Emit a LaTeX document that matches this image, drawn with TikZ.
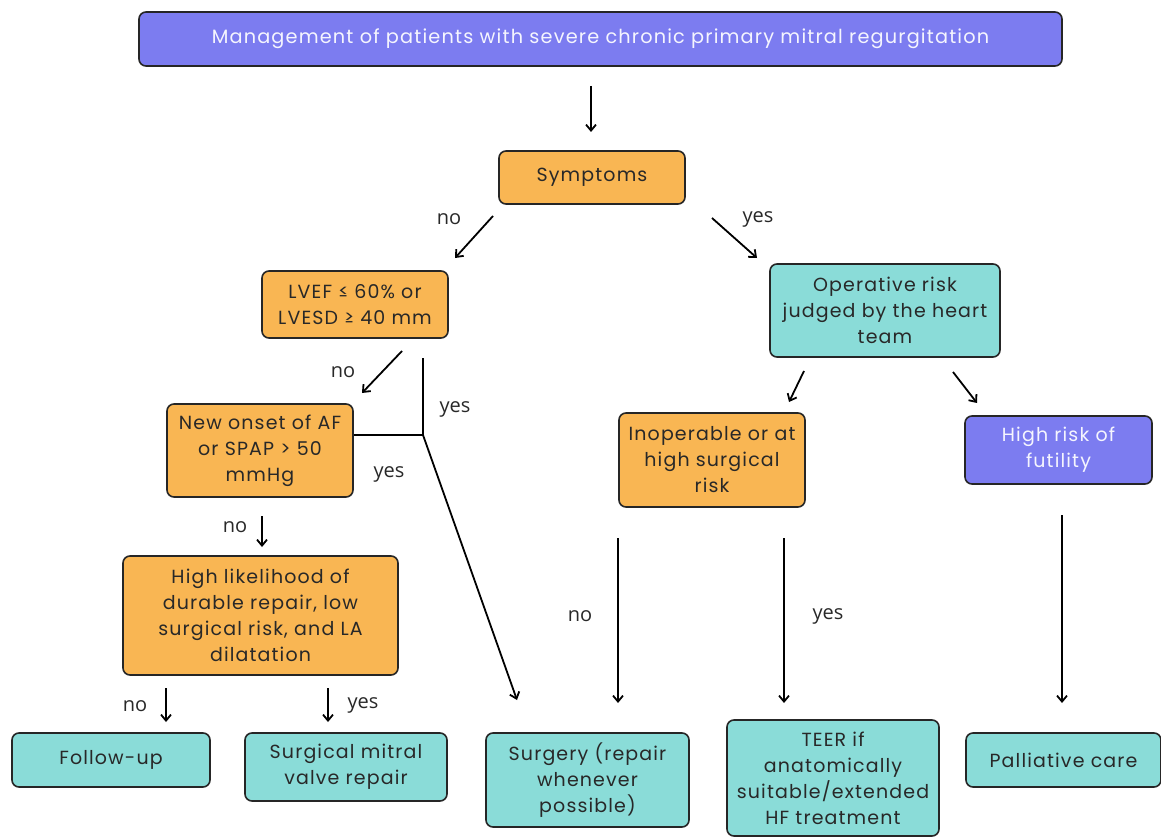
\documentclass[tikz,border=0pt]{standalone}
\usepackage{fontspec}
\usetikzlibrary{arrows.meta}
\newfontfamily\boxfont[LetterSpace=6]{Poppins}
\newfontfamily\lblfont{Open Sans}
\definecolor{purp}{RGB}{124,124,240}
\definecolor{orng}{RGB}{249,182,83}
\definecolor{teal}{RGB}{138,220,216}
\definecolor{txt}{RGB}{40,40,40}
\tikzset{
  x=1pt,y=1pt,
  box/.style={draw=black!85,line width=1.6pt,rounded corners=7pt,align=center,inner sep=1pt,font=\boxfont\fontsize{19}{26}\selectfont,text=txt},
  pbox/.style={box,fill=purp,text=white!92!purp},
  obox/.style={box,fill=orng},
  tbox/.style={box,fill=teal},
  arr/.style={line width=1.8pt,-{Straight Barb[length=6pt,width=10pt]}},
  ln/.style={line width=1.8pt},
  lbl/.style={font=\lblfont\fontsize{20}{24}\selectfont,text=txt,inner sep=0pt}
}
\begin{document}
\begin{tikzpicture}
\useasboundingbox (0,0) rectangle (1161,-837);
% boxes
\node[pbox,minimum width=923pt,minimum height=54pt,font=\boxfont\fontsize{19.3}{26}\selectfont] (title) at (600.5,-39) {Management of patients with severe chronic primary mitral regurgitation};
\node[obox,minimum width=186pt,minimum height=53pt] (sym) at (592,-177.5) {Symptoms};
\node[obox,minimum width=186pt,minimum height=67pt] (lvef) at (355,-304.5) {LVEF ≤ 60\% or\\LVESD ≥ 40 mm};
\node[tbox,minimum width=230pt,minimum height=93pt] (oprisk) at (885,-310.5) {Operative risk\\judged by the heart\\team};
\node[obox,minimum width=186pt,minimum height=93pt] (onset) at (260,-450.5) {New onset of AF\\or SPAP > 50\\mmHg};
\node[obox,minimum width=275pt,minimum height=119pt] (likely) at (260.5,-615.5) {High likelihood of\\durable repair, low\\surgical risk, and LA\\dilatation};
\node[obox,minimum width=186pt,minimum height=94pt] (inop) at (712,-460) {Inoperable or at\\high surgical\\risk};
\node[pbox,minimum width=187pt,minimum height=68pt] (futil) at (1058.5,-450) {High risk of\\futility};
\node[tbox,minimum width=198pt,minimum height=54pt] (follow) at (111,-760) {Follow-up};
\node[tbox,minimum width=202pt,minimum height=68pt] (smvr) at (346,-767) {Surgical mitral\\valve repair};
\node[tbox,minimum width=203pt,minimum height=94pt] (surg) at (587.5,-780) {Surgery (repair\\whenever\\possible)};
\node[tbox,minimum width=212pt,minimum height=116pt] (teer) at (833,-778) {TEER if\\anatomically\\suitable/extended\\HF treatment};
\node[tbox,minimum width=195pt,minimum height=54pt] (pall) at (1063.5,-760) {Palliative care};
% arrow endpoints
\coordinate (a0s) at (591,-86); \coordinate (a0e) at (591,-132);
\coordinate (a1s) at (493,-216); \coordinate (a1e) at (455,-258);
\coordinate (a2s) at (712,-218); \coordinate (a2e) at (757,-258);
\coordinate (a3s) at (402,-351); \coordinate (a3e) at (362,-393);
\coordinate (ytop) at (423,-358); \coordinate (j) at (423,-435);
\coordinate (a4e) at (517,-700);
\coordinate (a5s) at (262,-516); \coordinate (a5e) at (262,-547);
\coordinate (a6s) at (166,-688); \coordinate (a6e) at (166,-722);
\coordinate (a7s) at (328,-688); \coordinate (a7e) at (328,-722);
\coordinate (a8s) at (804,-371); \coordinate (a8e) at (789,-402);
\coordinate (a9s) at (953,-372); \coordinate (a9e) at (977,-403);
\coordinate (a10s) at (618,-538); \coordinate (a10e) at (618,-703);
\coordinate (a11s) at (784,-538); \coordinate (a11e) at (784,-703);
\coordinate (a12s) at (1062,-515); \coordinate (a12e) at (1062,-703);
% connectors
\draw[arr] (a0s) -- (a0e);
\draw[arr] (a1s) -- (a1e);
\draw[arr] (a2s) -- (a2e);
\draw[arr] (a3s) -- (a3e);
\draw[ln] (ytop) -- (j);
\draw[ln] (onset.east |- j) -- (j);
\draw[arr] (j) -- (a4e);
\draw[arr] (a5s) -- (a5e);
\draw[arr] (a6s) -- (a6e);
\draw[arr] (a7s) -- (a7e);
\draw[arr] (a8s) -- (a8e);
\draw[arr] (a9s) -- (a9e);
\draw[arr] (a10s) -- (a10e);
\draw[arr] (a11s) -- (a11e);
\draw[arr] (a12s) -- (a12e);
% labels
\node[lbl] (l1) at (449,-219) {no};
\node[lbl] (l2) at (758,-219) {yes};
\node[lbl] (l3) at (343,-372) {no};
\node[lbl] (l4) at (455,-409) {yes};
\node[lbl] (l5) at (389,-474) {yes};
\node[lbl] (l6) at (235,-527) {no};
\node[lbl] (l7) at (135,-706) {no};
\node[lbl] (l8) at (363,-705) {yes};
\node[lbl] (l9) at (580,-616) {no};
\node[lbl] (l10) at (828,-616) {yes};
\end{tikzpicture}
\end{document}
